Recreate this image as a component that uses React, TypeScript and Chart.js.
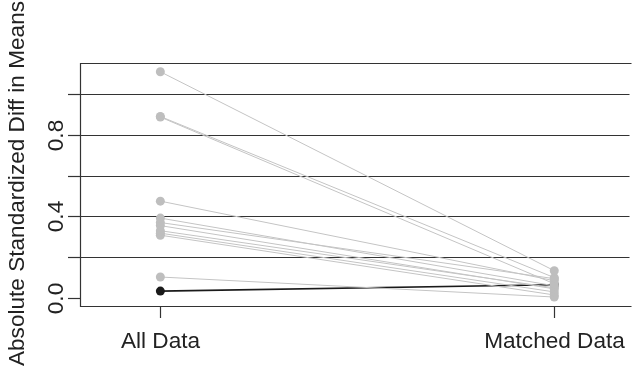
import React, { useEffect, useRef } from "react";
import { Chart, registerables } from "chart.js";

Chart.register(...registerables);

const categories = ["All Data", "Matched Data"];
const categoryPositions = [1, 2];
const grayAllData = [1.109, 0.89, 0.887, 0.475, 0.392, 0.37, 0.355, 0.33, 0.318, 0.308, 0.103];
const grayMatchedData = [0.134, 0.1, 0.07, 0.085, 0.06, 0.095, 0.045, 0.05, 0.03, 0.015, 0.005];
const blackAllData = [0.034];
const blackMatchedData = [0.065];
const yTicks = [0, 0.2, 0.4, 0.6, 0.8, 1.0];
const yTickLabels = ["0.0", "", "0.4", "", "0.8", ""];
const gridValues = [0.2, 0.4, 0.6, 0.8, 1.0];
const yTitle = "Absolute Standardized Diff in Means";

const FONT = '22.6px "Liberation Sans", Arial, Helvetica, sans-serif';

const axisPlugin = {
  id: "rAxes",
  beforeDatasetsDraw(chart: any) {
    const { ctx, chartArea, scales } = chart;
    const y = scales.y;
    ctx.save();
    ctx.strokeStyle = "#333333";
    ctx.lineWidth = 1.2;
    gridValues.forEach((v) => {
      const py = Math.round(y.getPixelForValue(v)) + 0.5;
      ctx.beginPath();
      ctx.moveTo(chartArea.left, py);
      ctx.lineTo(chartArea.right, py);
      ctx.stroke();
    });
    ctx.restore();
  },
  afterDraw(chart: any) {
    const { ctx, chartArea, scales } = chart;
    const x = scales.x;
    const y = scales.y;
    ctx.save();
    ctx.strokeStyle = "#333333";
    ctx.lineWidth = 1.2;
    ctx.beginPath();
    ctx.moveTo(chartArea.right + 2, chartArea.top + 0.5);
    ctx.lineTo(chartArea.left + 0.5, chartArea.top + 0.5);
    ctx.lineTo(chartArea.left + 0.5, chartArea.bottom + 0.5);
    ctx.lineTo(chartArea.right + 2, chartArea.bottom + 0.5);
    ctx.stroke();
    ctx.fillStyle = "#222222";
    ctx.font = FONT;
    yTicks.forEach((v, i) => {
      const py = Math.round(y.getPixelForValue(v)) + 0.5;
      ctx.beginPath();
      ctx.moveTo(chartArea.left, py);
      ctx.lineTo(chartArea.left - 12, py);
      ctx.stroke();
      const lab = yTickLabels[i];
      if (lab) {
        ctx.save();
        ctx.translate(63, py);
        ctx.rotate(-Math.PI / 2);
        ctx.textAlign = "center";
        ctx.textBaseline = "alphabetic";
        ctx.fillText(lab, 0, 0);
        ctx.restore();
      }
    });
    categoryPositions.forEach((v, i) => {
      const px = Math.round(x.getPixelForValue(v)) + 0.5;
      ctx.beginPath();
      ctx.moveTo(px, chartArea.bottom);
      ctx.lineTo(px, chartArea.bottom + 12);
      ctx.stroke();
      ctx.textAlign = "center";
      ctx.textBaseline = "alphabetic";
      ctx.fillText(categories[i], px, 348);
    });
    ctx.save();
    ctx.translate(24, (chartArea.top + chartArea.bottom) / 2 - 1);
    ctx.rotate(-Math.PI / 2);
    ctx.textAlign = "center";
    ctx.textBaseline = "alphabetic";
    ctx.fillText(yTitle, 0, 0);
    ctx.restore();
    ctx.restore();
  },
};

export default function App() {
  const ref = useRef<HTMLCanvasElement | null>(null);
  useEffect(() => {
    if (!ref.current) return;
    const grayDatasets = grayAllData.map((a, i) => ({
      data: [
        { x: categoryPositions[0], y: a },
        { x: categoryPositions[1], y: grayMatchedData[i] },
      ],
      borderColor: "#c4c4c4",
      borderWidth: 1,
      pointBackgroundColor: "#bebebe",
      pointBorderColor: "#bebebe",
      pointRadius: 4.5,
      pointBorderWidth: 0,
      tension: 0,
    }));
    const blackDatasets = blackAllData.map((a, i) => ({
      data: [
        { x: categoryPositions[0], y: a },
        { x: categoryPositions[1], y: blackMatchedData[i] },
      ],
      borderColor: "#1a1a1a",
      borderWidth: 1.6,
      pointBackgroundColor: "#1a1a1a",
      pointBorderColor: "#1a1a1a",
      pointRadius: 4.5,
      pointBorderWidth: 0,
      tension: 0,
    }));
    const chart = new Chart(ref.current, {
      type: "line",
      data: { datasets: [...grayDatasets, ...blackDatasets] as any },
      options: {
        responsive: false,
        animation: false,
        layout: { padding: { left: 80, top: 63, right: 0, bottom: 69 } },
        plugins: { legend: { display: false }, tooltip: { enabled: false } },
        scales: {
          x: { type: "linear", min: 0.796, max: 2.191, display: false },
          y: { type: "linear", min: -0.039, max: 1.152, display: false },
        },
      },
      plugins: [axisPlugin],
    });
    return () => chart.destroy();
  }, []);
  return (
    <div style={{ position: "absolute", left: 0, top: 0, width: 634, height: 375, background: "#fff" }}>
      <canvas ref={ref} width={634} height={375} style={{ width: 634, height: 375, display: "block" }} />
    </div>
  );
}
